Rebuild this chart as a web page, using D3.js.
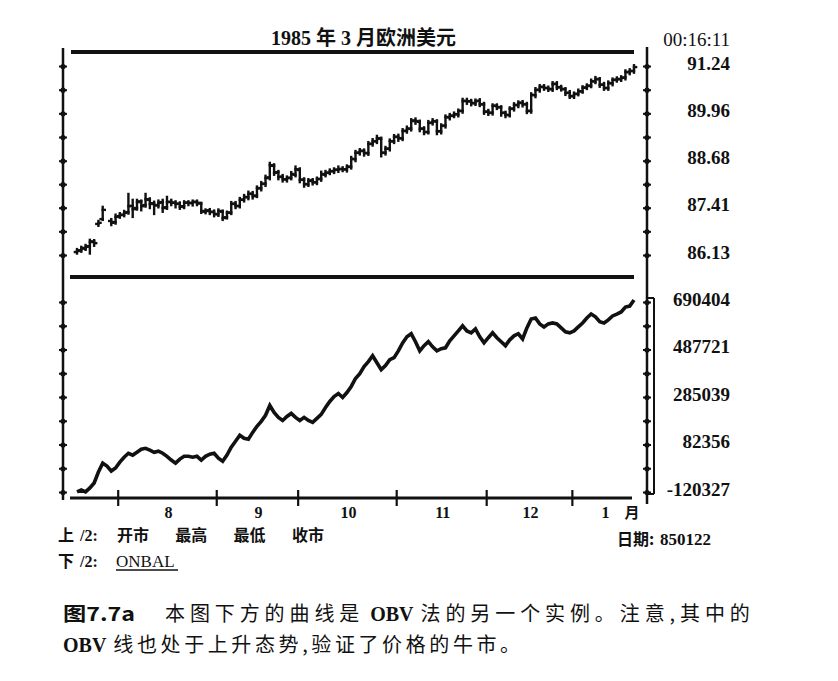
<!DOCTYPE html>
<html><head><meta charset="utf-8">
<script src="https://cdn.jsdelivr.net/npm/d3@7"></script>
<style>
html,body{margin:0;padding:0;background:#fff;}
svg{display:block;}
text{white-space:pre;}
</style></head><body>
<svg id="c" width="838" height="681"></svg>
<script>
// ---- text / labels ----
const chartTitle = "1985 年 3 月欧洲美元";
const timeStamp = "00:16:11";
const monthLabels = ["8", "9", "10", "11", "12", "1"];
const monthStart = [10, 33, 52, 75, 96, 116];   // trading-day index of first day of each month
const lastIndex = 130;
const priceTicks = [91.24, 89.96, 88.68, 87.41, 86.13];
const obvTicks = [690404, 487721, 285039, 82356, -120327];
const upperLegend = ["开市", "最高", "最低", "收市"];
const lowerLegend = "ONBAL";
const dateLabel = "850122";
const captionHead = "图7.7a";
const captionLine1 = [["本图下方的曲线是", "cjk"], ["OBV", "lat"], ["法的另一个实例。注意,其中的", "cjk"]];
const captionLine2 = [["OBV", "lat"], ["线也处于上升态势,验证了价格的牛市。", "cjk"]];

// ---- daily OHLC (trading-day index 0..130), null = no trade ----
const priceOpen = [86.21,86.26,86.30,86.37,86.50,86.97,87.10,null,87.05,87.02,
87.18,87.22,87.29,87.46,87.40,87.58,87.48,87.62,87.53,87.47,
87.56,87.42,87.57,87.55,87.52,87.45,87.55,87.53,87.57,87.52,
87.30,87.34,87.30,87.23,87.30,87.15,87.28,87.52,87.46,87.63,
87.69,87.79,87.74,87.93,88.06,88.23,88.54,88.37,88.25,88.17,
88.22,88.30,88.43,88.17,88.04,88.15,88.09,88.19,88.30,88.36,
88.39,88.44,88.46,88.44,88.52,88.72,88.90,88.95,88.88,89.14,
89.20,89.27,88.90,89.01,89.20,89.33,89.28,89.49,89.55,89.77,
89.73,89.55,89.45,89.71,89.74,89.47,89.63,89.85,89.90,89.93,
90.03,90.30,90.28,90.23,90.30,90.20,90.01,89.98,90.17,90.12,
89.98,89.91,90.09,90.18,90.25,90.20,90.03,90.45,90.60,90.68,
90.64,90.61,90.76,90.66,90.61,90.52,90.42,90.49,90.55,90.66,
90.71,90.82,90.88,90.74,90.64,90.77,90.87,90.88,90.93,91.07,
91.11];
const priceHigh = [86.29,86.35,86.40,86.54,86.53,87.05,87.43,null,87.10,87.22,
87.26,87.32,87.78,87.62,87.62,87.60,87.78,87.66,87.57,87.60,
87.62,87.70,87.62,87.58,87.55,87.58,87.58,87.60,87.60,87.54,
87.36,87.37,87.33,87.36,87.33,87.30,87.56,87.56,87.67,87.75,
87.84,87.83,87.98,88.10,88.27,88.62,88.58,88.40,88.29,88.25,
88.37,88.52,88.47,88.20,88.18,88.18,88.22,88.38,88.40,88.44,
88.47,88.52,88.50,88.55,88.78,88.94,88.99,88.98,89.18,89.26,
89.35,89.30,89.05,89.25,89.37,89.38,89.53,89.60,89.80,89.82,
89.76,89.58,89.75,89.80,89.77,89.66,89.90,89.94,89.98,90.06,
90.35,90.35,90.32,90.33,90.34,90.24,90.05,90.20,90.20,90.15,
90.00,90.12,90.23,90.28,90.29,90.24,90.50,90.64,90.72,90.72,
90.68,90.80,90.80,90.70,90.64,90.56,90.52,90.60,90.69,90.74,
90.87,90.94,90.91,90.78,90.82,90.90,90.93,90.96,91.12,91.15,
91.26];
const priceLow = [86.17,86.22,86.27,86.17,86.38,86.92,87.08,null,86.94,86.98,
87.14,87.18,87.25,87.16,87.36,87.34,87.44,87.40,87.24,87.42,
87.30,87.38,87.48,87.42,87.38,87.40,87.48,87.47,87.48,87.27,
87.26,87.24,87.18,87.19,87.08,87.12,87.24,87.40,87.42,87.58,
87.64,87.66,87.70,87.88,88.00,88.18,88.30,88.18,88.12,88.12,
88.18,88.26,88.10,87.98,88.00,88.04,88.05,88.14,88.26,88.32,
88.35,88.38,88.40,88.39,88.47,88.67,88.85,88.82,88.84,89.09,
89.16,88.80,88.85,88.96,89.16,89.22,89.24,89.44,89.50,89.68,
89.48,89.40,89.42,89.66,89.40,89.42,89.58,89.80,89.86,89.88,
89.98,90.22,90.18,90.19,90.16,89.95,89.92,89.93,90.08,89.90,
89.86,89.88,90.04,90.13,90.15,89.97,89.98,90.40,90.55,90.60,
90.57,90.57,90.62,90.58,90.46,90.38,90.38,90.45,90.52,90.62,
90.67,90.78,90.68,90.60,90.60,90.72,90.82,90.84,90.88,91.02,
91.06];
const priceClose = [86.24,86.32,86.35,86.48,86.45,87.00,87.35,null,87.00,87.16,
87.21,87.27,87.45,87.37,87.56,87.45,87.64,87.51,87.48,87.54,
87.40,87.56,87.54,87.51,87.43,87.54,87.54,87.56,87.54,87.32,
87.32,87.29,87.24,87.32,87.13,87.27,87.51,87.45,87.62,87.70,
87.78,87.72,87.94,88.05,88.21,88.56,88.35,88.24,88.18,88.21,
88.32,88.45,88.16,88.05,88.13,88.10,88.18,88.32,88.35,88.40,
88.43,88.45,88.45,88.51,88.73,88.89,88.94,88.89,89.13,89.21,
89.29,88.89,89.00,89.21,89.32,89.29,89.48,89.54,89.75,89.75,
89.54,89.46,89.70,89.75,89.48,89.62,89.86,89.89,89.94,90.02,
90.29,90.29,90.24,90.29,90.21,90.00,89.97,90.16,90.13,89.97,
89.92,90.08,90.19,90.24,90.21,90.02,90.46,90.59,90.67,90.65,
90.62,90.75,90.67,90.62,90.51,90.43,90.48,90.56,90.65,90.70,
90.83,90.89,90.73,90.65,90.78,90.86,90.89,90.92,91.08,91.10,
91.21];
// ---- on-balance volume ----
const obv = [-120000,-112000,-120000,-103000,-82000,-35000,3000,-10000,-31000,-18000,
7000,28000,45000,37000,49000,62000,66000,58000,49000,54000,
45000,32000,16000,3000,20000,32000,32000,28000,32000,16000,
32000,41000,45000,24000,11000,37000,71000,96000,122000,109000,
105000,134000,160000,181000,207000,249000,219000,198000,185000,202000,
215000,198000,185000,198000,185000,177000,194000,211000,240000,266000,
287000,300000,283000,304000,330000,364000,385000,415000,436000,461000,
431000,402000,419000,444000,453000,482000,516000,542000,555000,521000,
482000,504000,521000,499000,482000,491000,495000,525000,546000,567000,
589000,567000,559000,576000,542000,516000,538000,559000,538000,521000,
504000,529000,546000,555000,533000,580000,618000,622000,597000,584000,
597000,601000,597000,580000,563000,559000,567000,584000,601000,622000,
639000,627000,606000,601000,614000,631000,639000,648000,669000,673000,
699000];

// ---- drawing ----
const svg = d3.select("#c");
const ink = "#111";
const serif = "'Liberation Serif','Times New Roman',serif";
const cjk = "'Noto Sans CJK SC','Liberation Serif',sans-serif";

const x = d3.scaleLinear().domain([0, lastIndex]).range([77, 634]);
const yP = d3.scaleLinear().domain([86.13, 91.24]).range([255, 66]);
const yO = d3.scaleLinear().domain([-120327, 690404]).range([492, 302]);

// title and time stamp
svg.append("text").attr("x", 271).attr("y", 45).attr("font-family", serif + ",'Noto Sans CJK SC'")
  .attr("font-weight", "bold").attr("font-size", 20).attr("fill", ink).text(chartTitle);
svg.append("text").attr("x", 730).attr("y", 46).attr("text-anchor", "end").attr("font-family", serif)
  .attr("font-size", 19).attr("fill", ink).text(timeStamp);

// heavy frame lines
const frame = svg.append("g").attr("stroke", ink).attr("stroke-linecap", "butt");
frame.append("line").attr("x1", 71).attr("x2", 634).attr("y1", 52).attr("y2", 52).attr("stroke-width", 4);
frame.append("line").attr("x1", 70).attr("x2", 634).attr("y1", 277).attr("y2", 277).attr("stroke-width", 4);
frame.append("line").attr("x1", 63).attr("x2", 63).attr("y1", 48).attr("y2", 500).attr("stroke-width", 2.5);
frame.append("line").attr("x1", 647).attr("x2", 647).attr("y1", 47).attr("y2", 504).attr("stroke-width", 2.5);
frame.append("line").attr("x1", 647).attr("x2", 654).attr("y1", 298).attr("y2", 298).attr("stroke-width", 2);
frame.append("line").attr("x1", 654).attr("x2", 654).attr("y1", 298).attr("y2", 494).attr("stroke-width", 2);
frame.append("line").attr("x1", 647).attr("x2", 654).attr("y1", 494).attr("y2", 494).attr("stroke-width", 2);

// vertical dotted tick axes (left and right), major + half ticks
function midTicks(arr) { return d3.pairs(arr).map(([a, b]) => (a + b) / 2); }
function dotAxis(xpos, scale, ticks, gen) {
  const g = svg.append("g").attr("transform", `translate(${xpos},0)`)
    .call(gen(scale).tickValues(ticks.concat(midTicks(ticks))).tickSize(0).tickFormat(""));
  g.select(".domain").remove();
  g.selectAll(".tick").append("circle").attr("r", 2.6).attr("fill", ink);
  g.selectAll(".tick").append("line").attr("x1", -4).attr("x2", 4).attr("stroke", ink).attr("stroke-width", 2);
  return g;
}
dotAxis(63, yP, priceTicks, d3.axisLeft);
dotAxis(63, yO, obvTicks, d3.axisLeft);
dotAxis(647, yP, priceTicks, d3.axisRight);
dotAxis(647, yO, obvTicks, d3.axisRight);

// right-side value labels
function labelAxis(scale, ticks, fmt) {
  const g = svg.append("g").attr("transform", "translate(730,-3)")
    .call(d3.axisLeft(scale).tickValues(ticks).tickSize(0).tickPadding(0).tickFormat(fmt));
  g.select(".domain").remove();
  g.attr("font-family", serif).attr("font-size", 19).attr("font-weight", "bold");
  g.selectAll("text").attr("fill", ink);
}
labelAxis(yP, priceTicks, d3.format(".2f"));
labelAxis(yO, obvTicks, d => String(d));

// bottom time axis
const xa = svg.append("g").attr("transform", "translate(0,498)")
  .call(d3.axisBottom(x).tickValues(monthStart.map(d => d - 0.5)).tickSize(0).tickFormat(""));
xa.select(".domain").remove();
xa.append("line").attr("x1", 70).attr("x2", 632).attr("stroke", ink).attr("stroke-width", 3);
xa.selectAll(".tick").append("line").attr("y1", -8).attr("y2", 8).attr("stroke", ink).attr("stroke-width", 2.2);

const monthMid = monthStart.map((s, k) => ((s + (k < monthStart.length - 1 ? monthStart[k + 1] - 1 : lastIndex)) / 2));
const xl = svg.append("g").attr("transform", "translate(1,518)")
  .call(d3.axisBottom(x).tickValues(monthMid).tickSize(0).tickPadding(0).tickFormat((d, k) => monthLabels[k]));
xl.select(".domain").remove();
xl.attr("font-family", serif).attr("font-size", 16).attr("font-weight", "bold");
xl.selectAll("text").attr("dy", 0).attr("fill", ink);
svg.append("text").attr("x", 632).attr("y", 518).attr("text-anchor", "middle").attr("font-family", cjk)
  .attr("font-weight", "bold").attr("font-size", 15).attr("fill", ink).text("月");

// OHLC bars
const bars = svg.append("g").attr("stroke", ink).attr("stroke-width", 2.4).attr("stroke-linecap", "square");
const days = d3.range(priceClose.length).filter(i => priceClose[i] !== null);
bars.selectAll("line.hl").data(days).join("line").attr("class", "hl")
  .attr("x1", i => x(i)).attr("x2", i => x(i)).attr("y1", i => yP(priceHigh[i])).attr("y2", i => yP(priceLow[i]));
bars.selectAll("line.op").data(days).join("line").attr("class", "op")
  .attr("x1", i => x(i) - 2.1).attr("x2", i => x(i)).attr("y1", i => yP(priceOpen[i])).attr("y2", i => yP(priceOpen[i]));
bars.selectAll("line.cl").data(days).join("line").attr("class", "cl")
  .attr("x1", i => x(i)).attr("x2", i => x(i) + 2.1).attr("y1", i => yP(priceClose[i])).attr("y2", i => yP(priceClose[i]));

// OBV line
svg.append("path").datum(obv).attr("fill", "none").attr("stroke", ink).attr("stroke-width", 3.6)
  .attr("stroke-linejoin", "miter")
  .attr("d", d3.line().x((d, i) => x(i)).y(d => yO(d)));

// legend texts
const leg = svg.append("g").attr("fill", ink);
leg.append("text").attr("x", 58).attr("y", 541).attr("font-family", cjk).attr("font-weight", "bold").attr("font-size", 16).text("上");
leg.append("text").attr("x", 80).attr("y", 541).attr("font-family", serif).attr("font-weight", "bold").attr("font-size", 16).text("/2:");
upperLegend.forEach((t, k) => {
  leg.append("text").attr("x", 117 + k * 58.3).attr("y", 541).attr("font-family", cjk).attr("font-weight", "bold")
    .attr("font-size", 16).text(t);
});
leg.append("text").attr("x", 58).attr("y", 567).attr("font-family", cjk).attr("font-weight", "bold").attr("font-size", 16).text("下");
leg.append("text").attr("x", 80).attr("y", 567).attr("font-family", serif).attr("font-weight", "bold").attr("font-size", 16).text("/2:");
leg.append("text").attr("x", 116).attr("y", 567).attr("font-family", serif).attr("font-size", 17).text(lowerLegend);
leg.append("line").attr("x1", 116).attr("x2", 178).attr("y1", 570).attr("y2", 570).attr("stroke", ink).attr("stroke-width", 1.3);
leg.append("text").attr("x", 617).attr("y", 545).attr("font-family", cjk).attr("font-weight", "bold").attr("font-size", 16).text("日期:");
leg.append("text").attr("x", 660).attr("y", 545).attr("font-family", serif).attr("font-weight", "bold").attr("font-size", 17).text(dateLabel);

// caption
const cap = svg.append("g").attr("fill", ink);
cap.append("text").attr("x", 63).attr("y", 621).attr("font-family", cjk).attr("font-weight", "bold")
  .attr("font-size", 19).attr("textLength", 72).attr("lengthAdjust", "spacingAndGlyphs").text(captionHead);
function captionLine(xpos, ypos, parts, spacing) {
  const t = cap.append("text").attr("x", xpos).attr("y", ypos);
  parts.forEach(([s, kind], k) => {
    const sp = t.append("tspan").text(s);
    if (kind === "cjk") sp.attr("font-family", cjk).attr("font-size", 20).attr("letter-spacing", spacing);
    else sp.attr("font-family", serif).attr("font-weight", "bold").attr("font-size", 20).attr("letter-spacing", 0);
    if (k > 0) sp.attr("dx", kind === "cjk" ? 7 : 6);
  });
}
captionLine(165, 621, captionLine1, 4.9);
captionLine(63, 652, captionLine2, 3.6);
</script>
</body></html>
